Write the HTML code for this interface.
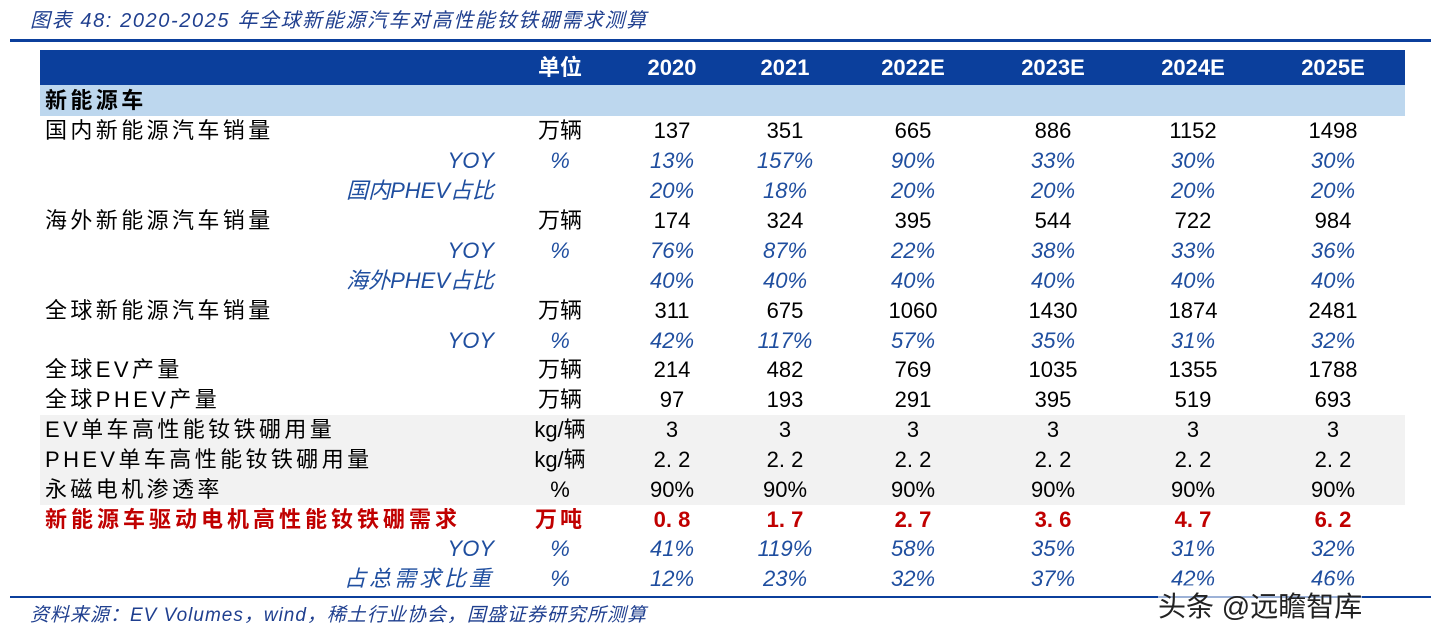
<!DOCTYPE html>
<html><head><meta charset="utf-8"><style>
body{margin:0;width:1441px;height:639px;background:#fff;position:relative;overflow:hidden;font-family:"Liberation Sans","Noto Sans CJK SC",sans-serif;}
.a{position:absolute;white-space:nowrap;}
.title{left:30px;top:4px;font-size:20px;font-style:italic;color:#1F3F8F;letter-spacing:1.6px;}
.rule{position:absolute;left:10px;width:1421px;height:3px;background:#0B3F9C;}
.hdr{position:absolute;left:40px;top:50px;width:1365px;height:35px;background:#0B3F9C;}
.sec{position:absolute;left:40px;top:85px;width:1365px;height:31px;background:#BDD7EE;}
.gray{position:absolute;left:40px;top:415px;width:1365px;height:90px;background:#F2F2F2;}
.r{position:absolute;left:0;width:1441px;height:30px;font-size:22px;line-height:30px;}
.r span{position:absolute;top:0;}
.c{transform:translateX(-50%);text-align:center;}
.lab{left:45px;letter-spacing:3.4px;}
.sub{right:947px;font-style:italic;color:#1F4E9F;}
.blue{color:#1F4E9F;font-style:italic;}
.red{color:#C00000;font-weight:bold;}
</style></head><body>
<div class="a title">图表 48:&nbsp;2020-2025 年全球新能源汽车对高性能钕铁硼需求测算</div>
<div class="rule" style="top:39px"></div>
<div class="hdr"></div>
<div class="sec"></div>
<div class="gray"></div>
<div class="r" style="top:53px;color:#fff;font-weight:bold;font-size:22px">
<span class="c" style="left:560px">单位</span><span class="c" style="left:672px">2020</span><span class="c" style="left:785px">2021</span><span class="c" style="left:913px">2022E</span><span class="c" style="left:1053px">2023E</span><span class="c" style="left:1193px">2024E</span><span class="c" style="left:1333px">2025E</span></div>
<div class="r" style="top:86px;font-weight:bold"><span class="lab">新能源车</span></div>

<div class="r" style="top:116px"><span class="lab">国内新能源汽车销量</span><span class="c" style="left:560px">万辆</span><span class="c" style="left:672px">137</span><span class="c" style="left:785px">351</span><span class="c" style="left:913px">665</span><span class="c" style="left:1053px">886</span><span class="c" style="left:1193px">1152</span><span class="c" style="left:1333px">1498</span></div>
<div class="r blue" style="top:146px"><span class="sub">YOY</span><span class="c" style="left:560px">%</span><span class="c" style="left:672px">13%</span><span class="c" style="left:785px">157%</span><span class="c" style="left:913px">90%</span><span class="c" style="left:1053px">33%</span><span class="c" style="left:1193px">30%</span><span class="c" style="left:1333px">30%</span></div>
<div class="r blue" style="top:176px"><span class="sub">国内PHEV占比</span><span class="c" style="left:672px">20%</span><span class="c" style="left:785px">18%</span><span class="c" style="left:913px">20%</span><span class="c" style="left:1053px">20%</span><span class="c" style="left:1193px">20%</span><span class="c" style="left:1333px">20%</span></div>
<div class="r" style="top:206px"><span class="lab">海外新能源汽车销量</span><span class="c" style="left:560px">万辆</span><span class="c" style="left:672px">174</span><span class="c" style="left:785px">324</span><span class="c" style="left:913px">395</span><span class="c" style="left:1053px">544</span><span class="c" style="left:1193px">722</span><span class="c" style="left:1333px">984</span></div>
<div class="r blue" style="top:236px"><span class="sub">YOY</span><span class="c" style="left:560px">%</span><span class="c" style="left:672px">76%</span><span class="c" style="left:785px">87%</span><span class="c" style="left:913px">22%</span><span class="c" style="left:1053px">38%</span><span class="c" style="left:1193px">33%</span><span class="c" style="left:1333px">36%</span></div>
<div class="r blue" style="top:266px"><span class="sub">海外PHEV占比</span><span class="c" style="left:672px">40%</span><span class="c" style="left:785px">40%</span><span class="c" style="left:913px">40%</span><span class="c" style="left:1053px">40%</span><span class="c" style="left:1193px">40%</span><span class="c" style="left:1333px">40%</span></div>
<div class="r" style="top:296px"><span class="lab">全球新能源汽车销量</span><span class="c" style="left:560px">万辆</span><span class="c" style="left:672px">311</span><span class="c" style="left:785px">675</span><span class="c" style="left:913px">1060</span><span class="c" style="left:1053px">1430</span><span class="c" style="left:1193px">1874</span><span class="c" style="left:1333px">2481</span></div>
<div class="r blue" style="top:326px"><span class="sub">YOY</span><span class="c" style="left:560px">%</span><span class="c" style="left:672px">42%</span><span class="c" style="left:785px">117%</span><span class="c" style="left:913px">57%</span><span class="c" style="left:1053px">35%</span><span class="c" style="left:1193px">31%</span><span class="c" style="left:1333px">32%</span></div>
<div class="r" style="top:355px"><span class="lab">全球EV产量</span><span class="c" style="left:560px">万辆</span><span class="c" style="left:672px">214</span><span class="c" style="left:785px">482</span><span class="c" style="left:913px">769</span><span class="c" style="left:1053px">1035</span><span class="c" style="left:1193px">1355</span><span class="c" style="left:1333px">1788</span></div>
<div class="r" style="top:385px"><span class="lab">全球PHEV产量</span><span class="c" style="left:560px">万辆</span><span class="c" style="left:672px">97</span><span class="c" style="left:785px">193</span><span class="c" style="left:913px">291</span><span class="c" style="left:1053px">395</span><span class="c" style="left:1193px">519</span><span class="c" style="left:1333px">693</span></div>
<div class="r" style="top:415px"><span class="lab">EV单车高性能钕铁硼用量</span><span class="c" style="left:560px">kg/辆</span><span class="c" style="left:672px">3</span><span class="c" style="left:785px">3</span><span class="c" style="left:913px">3</span><span class="c" style="left:1053px">3</span><span class="c" style="left:1193px">3</span><span class="c" style="left:1333px">3</span></div>
<div class="r" style="top:445px"><span class="lab">PHEV单车高性能钕铁硼用量</span><span class="c" style="left:560px">kg/辆</span><span class="c" style="left:672px">2. 2</span><span class="c" style="left:785px">2. 2</span><span class="c" style="left:913px">2. 2</span><span class="c" style="left:1053px">2. 2</span><span class="c" style="left:1193px">2. 2</span><span class="c" style="left:1333px">2. 2</span></div>
<div class="r" style="top:475px"><span class="lab">永磁电机渗透率</span><span class="c" style="left:560px">%</span><span class="c" style="left:672px">90%</span><span class="c" style="left:785px">90%</span><span class="c" style="left:913px">90%</span><span class="c" style="left:1053px">90%</span><span class="c" style="left:1193px">90%</span><span class="c" style="left:1333px">90%</span></div>
<div class="r red" style="top:505px"><span class="lab" style="letter-spacing:4px">新能源车驱动电机高性能钕铁硼需求</span><span class="c" style="left:560px;letter-spacing:3px">万吨</span><span class="c" style="left:672px">0. 8</span><span class="c" style="left:785px">1. 7</span><span class="c" style="left:913px">2. 7</span><span class="c" style="left:1053px">3. 6</span><span class="c" style="left:1193px">4. 7</span><span class="c" style="left:1333px">6. 2</span></div>
<div class="r blue" style="top:534px"><span class="sub">YOY</span><span class="c" style="left:560px">%</span><span class="c" style="left:672px">41%</span><span class="c" style="left:785px">119%</span><span class="c" style="left:913px">58%</span><span class="c" style="left:1053px">35%</span><span class="c" style="left:1193px">31%</span><span class="c" style="left:1333px">32%</span></div>
<div class="r blue" style="top:564px"><span class="sub" style="letter-spacing:3px">占总需求比重</span><span class="c" style="left:560px">%</span><span class="c" style="left:672px">12%</span><span class="c" style="left:785px">23%</span><span class="c" style="left:913px">32%</span><span class="c" style="left:1053px">37%</span><span class="c" style="left:1193px">42%</span><span class="c" style="left:1333px">46%</span></div>
<div class="rule" style="top:596px;height:2px"></div>
<div class="a" style="left:1158px;top:585px;font-size:28px;color:#222;background:rgba(255,255,255,0.6)">头条 @远瞻智库</div>
<div class="a" style="left:30px;top:600px;font-size:19px;font-style:italic;color:#1F3F8F;letter-spacing:1px">资料来源：EV Volumes，wind，稀土行业协会，国盛证券研究所测算</div>
</body></html>
